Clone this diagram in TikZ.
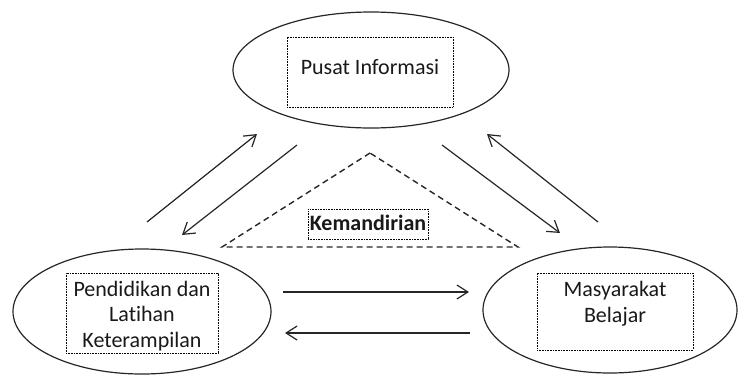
\documentclass[tikz,border=0pt]{standalone}
\usepackage{fontspec}
\setmainfont{Carlito}[Ligatures={NoCommon,NoRare},Contextuals=NoAlternate]
\usetikzlibrary{arrows.meta,shapes.geometric}
\begin{document}
\begin{tikzpicture}[x=1pt,y=-1pt,
  oval/.style={ellipse,draw=black!85,line width=1.2pt,inner sep=0pt,outer sep=0pt},
  dotbox/.style={draw=black,line width=0.8pt,dash pattern=on 0.8pt off 0.8pt,inner sep=0pt},
  lbl/.style={font=\fontsize{22}{25.5}\selectfont,align=center,inner sep=0pt,text=black!90},
  arr/.style={line width=1.2pt,draw=black!85,-{Straight Barb[length=11pt,width=14pt]}},
  tri/.style={line width=1.4pt,draw=black!85,dash pattern=on 6pt off 4pt}]
\useasboundingbox (0,0) rectangle (739,376);
% ellipses
\node[oval,minimum width=276pt,minimum height=116pt] (top) at (371,70) {};
\node[oval,minimum width=258pt,minimum height=125pt] (left) at (142,311.5) {};
\node[oval,minimum width=254pt,minimum height=126pt] (right) at (610,310) {};
% dotted boxes
\node[dotbox,minimum width=166pt,minimum height=70pt] (pbox) at (370,72) {};
\node[dotbox,minimum width=152pt,minimum height=80pt] (lbox) at (142,313) {};
\node[dotbox,minimum width=156pt,minimum height=77pt] (rbox) at (615,311.5) {};
\node[dotbox,minimum width=120pt,minimum height=30pt] (kbox) at (368,224) {};
% texts
\node[lbl] (ptext) at (370,67.5) {Pusat Informasi};
\node[lbl] (ltext) at (142,316) {Pendidikan dan\\Latihan\\Keterampilan};
\node[lbl] (rtext) at (615,303.5) {Masyarakat\\Belajar};
\node[lbl,font=\fontsize{22}{25.5}\selectfont\bfseries] (ktext) at (368,222.5) {Kemandirian};
% triangle
\coordinate (t1) at (370,153);
\coordinate (t2) at (222,247);
\coordinate (t3) at (518,247);
\draw[tri] (t1) -- (t2) -- (t3) -- cycle;
% arrow endpoints
\coordinate (a1s) at (147,222); \coordinate (a1e) at (257,134);
\coordinate (a2s) at (297,145); \coordinate (a2e) at (182,235);
\coordinate (a3s) at (442,145); \coordinate (a3e) at (560,233);
\coordinate (a4s) at (598,222); \coordinate (a4e) at (487,134);
\coordinate (h1s) at (283,292); \coordinate (h1e) at (469,292);
\coordinate (h2s) at (470,333); \coordinate (h2e) at (285,333);
\draw[arr] (a1s) -- (a1e);
\draw[arr] (a2s) -- (a2e);
\draw[arr] (a3s) -- (a3e);
\draw[arr] (a4s) -- (a4e);
\draw[arr] (h1s) -- (h1e);
\draw[arr] (h2s) -- (h2e);
\end{tikzpicture}
\end{document}
